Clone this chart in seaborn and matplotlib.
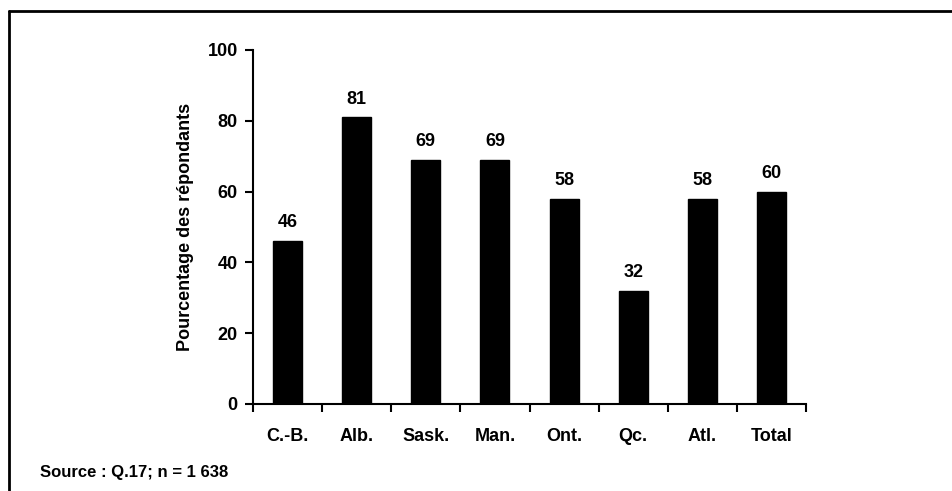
import matplotlib
matplotlib.use("Agg")
import matplotlib.pyplot as plt
import seaborn as sns
import pandas as pd
from matplotlib.lines import Line2D

categories = ["C.-B.", "Alb.", "Sask.", "Man.", "Ont.", "Qc.", "Atl.", "Total"]
values = [46, 81, 69, 69, 58, 32, 58, 60]
y_ticks = [0, 20, 40, 60, 80, 100]
y_label = "Pourcentage des répondants"
source_text = "Source : Q.17; n = 1 638"

sns.set_style("ticks")
plt.rcParams["font.family"] = ["Liberation Sans", "DejaVu Sans"]
plt.rcParams["font.weight"] = "bold"
plt.rcParams["text.color"] = "black"
plt.rcParams["axes.labelcolor"] = "black"
plt.rcParams["xtick.color"] = "black"
plt.rcParams["ytick.color"] = "black"
plt.rcParams["axes.edgecolor"] = "black"

df = pd.DataFrame({"cat": categories, "val": values})

fig = plt.figure(figsize=(9.53, 4.91), dpi=100)
ax = fig.add_axes([253/953, 1-404/491, (806-253)/953, (404-50)/491])
sns.barplot(data=df, x="cat", y="val", color="black", width=0.42,
            saturation=1, ax=ax, edgecolor="black")

ax.set_ylim(0, 100)
ax.set_xlim(-0.5, len(categories)-0.5)
ax.set_yticks(y_ticks)
ax.set_yticklabels([str(t) for t in y_ticks], fontsize=13, fontweight="bold")
ax.set_xticks([i - 0.5 for i in range(len(categories)+1)], minor=False)
ax.set_xticklabels([""]*(len(categories)+1))
ax.set_xticks(range(len(categories)), minor=True)
ax.set_xticklabels(categories, minor=True, fontsize=13, fontweight="bold")
ax.tick_params(axis="x", which="minor", length=0, pad=17)
ax.tick_params(axis="x", which="major", length=6, width=1.5, direction="out")
ax.tick_params(axis="y", length=6, width=1.5, direction="out", pad=5)
ax.set_xlabel("")
ax.set_ylabel(y_label, fontsize=13, fontweight="bold", labelpad=10)
for s in ["top", "right"]:
    ax.spines[s].set_visible(False)
for s in ["left", "bottom"]:
    ax.spines[s].set_linewidth(1.5)

for i, v in enumerate(values):
    ax.annotate(str(v), (i, v), xytext=(0, 7), textcoords="offset points",
                ha="center", va="bottom", fontsize=13, fontweight="bold")

fig.text(40/953, 1-472/491, source_text, fontsize=12, fontweight="bold",
         ha="left", va="center")

fig.add_artist(Line2D([9/953, 9/953], [0, 1-11/491], transform=fig.transFigure,
                      color="black", lw=2))
fig.add_artist(Line2D([9/953, 1], [1-11/491, 1-11/491], transform=fig.transFigure,
                      color="black", lw=2))

fig.savefig("out.png", dpi=100)
